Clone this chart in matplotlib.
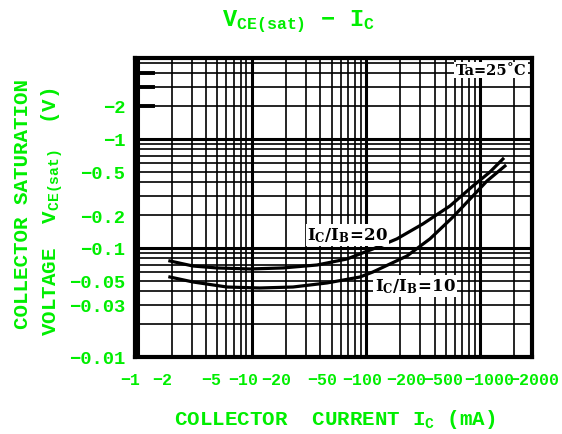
import matplotlib
matplotlib.use("Agg")
import matplotlib.pyplot as plt
import matplotlib.transforms as mtransforms

# |IC| (mA) and |VCE(sat)| (V), two base-current ratios
ic_20 = [1.92, 3.06, 4.96, 9.65, 18.8, 37.3, 68.2, 115, 187, 316, 544, 865, 1220, 1585]
vce_20 = [0.0759, 0.0682, 0.0655, 0.0641, 0.0655, 0.0697, 0.0791, 0.0977, 0.121, 0.166,
          0.242, 0.369, 0.496, 0.653]
ic_10 = [1.92, 3.06, 6.07, 11.8, 23.0, 45.6, 88.7, 115, 229, 364, 579, 865, 1148, 1651]
vce_10 = [0.0541, 0.0487, 0.0438, 0.0429, 0.0438, 0.0477, 0.0541, 0.0601, 0.0843, 0.121,
          0.192, 0.299, 0.410, 0.563]

x_ticks = [1, 2, 5, 10, 20, 50, 100, 200, 500, 1000, 2000]
y_ticks = [2, 1, 0.5, 0.2, 0.1, 0.05, 0.03, 0.01]

green = "#00ee00"
mono = "Liberation Mono"

plt.rcParams["mathtext.fontset"] = "custom"
plt.rcParams["mathtext.rm"] = mono + ":bold"
plt.rcParams["mathtext.it"] = mono + ":bold"
plt.rcParams["mathtext.bf"] = mono + ":bold"

fig = plt.figure(figsize=(5.62, 4.35), dpi=100)
ax = fig.add_axes([135 / 562, 1 - 358 / 435, 397 / 562, 299 / 435])
ax.set_xscale("log")
ax.set_yscale("log")
ax.set_xlim(0.95, 2850)
ax.set_ylim(0.01, 5.5)

# datasheet grid: 1..9 in every decade, decade lines heavier
for d in [1, 10, 100, 1000]:
    for m in range(1, 10):
        v = d * m
        if 0.95 < v < 2850:
            ax.axvline(v, color="black", lw=2.2 if m == 1 else 1.2, zorder=1)
for d in [0.01, 0.1, 1]:
    for m in range(1, 10):
        v = d * m
        if 0.01 < v < 5.5:
            ax.axhline(v, color="black", lw=2.2 if m == 1 else 1.2, zorder=1)
for v in [2, 3, 4]:
    ax.axhline(v, xmin=0, xmax=0.045, color="black", lw=2.8, zorder=1)

ax.plot(ic_20, vce_20, color="black", lw=2.3, zorder=3)
ax.plot(ic_10, vce_10, color="black", lw=2.3, zorder=3)

for s in ax.spines.values():
    s.set_linewidth(3)

ax.set_xticks(x_ticks)
ax.set_xticklabels([f"\u2212{v:g}" for v in x_ticks])
ax.set_yticks(y_ticks)
ax.set_yticklabels([f"\u2212{v:g}" for v in y_ticks])
ax.minorticks_off()
ax.tick_params(axis="x", length=0, pad=11)
ax.tick_params(axis="y", length=0, pad=7)
for lab in ax.get_xticklabels():
    lab.set_fontfamily(mono)
    lab.set_fontweight("bold")
    lab.set_fontsize(12)
    lab.set_color(green)
for lab in ax.get_yticklabels():
    lab.set_fontfamily(mono)
    lab.set_fontweight("bold")
    lab.set_fontsize(13.5)
    lab.set_color(green)

# the sheet packs the labels side by side, not exactly under their lines (pixels)
shift = {1: -7, 2: -10, 5: -6, 10: -9, 20: -10, 50: -9, 100: -4, 200: 6, 500: -2, 1000: 9, 2000: 20}
for v, lab in zip(x_ticks, ax.get_xticklabels()):
    lab.set_transform(lab.get_transform() + mtransforms.ScaledTranslation(shift[v] / 100, 0, fig.dpi_scale_trans))

box = dict(facecolor="white", edgecolor="none", pad=1.0)
ax.text(0.433, 0.408, r"$\mathbf{I_C/I_B\!=\!20}$", transform=ax.transAxes, math_fontfamily="dejavuserif",
        fontsize=12, va="center", ha="left", bbox=box, zorder=4)
ax.text(0.604, 0.237, r"$\mathbf{I_C/I_B\!=\!10}$", transform=ax.transAxes, math_fontfamily="dejavuserif",
        fontsize=12, va="center", ha="left", bbox=box, zorder=4)
ax.text(0.985, 0.96, "Ta=25\u02daC", transform=ax.transAxes, family="DejaVu Serif", weight="bold",
        fontsize=10.5, va="center", ha="right", bbox=box, zorder=4)

txt = dict(color=green, family=mono, weight="bold", math_fontfamily="custom")
fig.text(298 / 562, 1 - 22 / 435, "$\\mathrm{V_{CE(sat)}}$ \u2212 $\\mathrm{I_C}$",
         fontsize=17, ha="center", va="center", **txt)
fig.text(335 / 562, 1 - 420 / 435, r"COLLECTOR  CURRENT $\mathrm{I_C}$ (mA)", fontsize=15,
         ha="center", va="center", **txt)
fig.text(23 / 562, 1 - 204 / 435, "COLLECTOR SATURATION", fontsize=15, rotation=90,
         ha="center", va="center", **txt)
fig.text(52 / 562, 1 - 212 / 435, r"VOLTAGE  $\mathrm{V_{CE(sat)}}$  (V)", fontsize=15, rotation=90,
         ha="center", va="center", **txt)

fig.savefig("out.png", dpi=100)
